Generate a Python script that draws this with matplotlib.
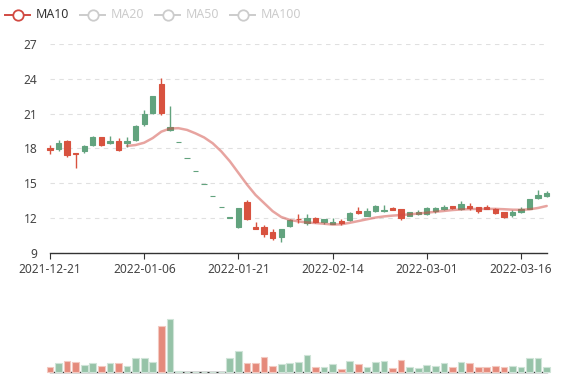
import numpy as np
import matplotlib
matplotlib.use("Agg")
import matplotlib.pyplot as plt

plt.rcParams['font.family'] = ['Noto Sans', 'DejaVu Sans']

dates = ["2021-12-21", "2021-12-22", "2021-12-23", "2021-12-24", "2021-12-27",
         "2021-12-28", "2021-12-29", "2021-12-30", "2021-12-31", "2022-01-04",
         "2022-01-05", "2022-01-06", "2022-01-07", "2022-01-10", "2022-01-11",
         "2022-01-12", "2022-01-13", "2022-01-14", "2022-01-17", "2022-01-18",
         "2022-01-19", "2022-01-20", "2022-01-21", "2022-01-24", "2022-01-25",
         "2022-01-26", "2022-01-27", "2022-01-28", "2022-02-07", "2022-02-08",
         "2022-02-09", "2022-02-10", "2022-02-11", "2022-02-14", "2022-02-15",
         "2022-02-16", "2022-02-17", "2022-02-18", "2022-02-21", "2022-02-22",
         "2022-02-23", "2022-02-24", "2022-02-25", "2022-02-28", "2022-03-01",
         "2022-03-02", "2022-03-03", "2022-03-04", "2022-03-07", "2022-03-08",
         "2022-03-09", "2022-03-10", "2022-03-11", "2022-03-14", "2022-03-15",
         "2022-03-16", "2022-03-17", "2022-03-18", "2022-03-21"]

opens = [17.9, 18.5, 17.4, 17.5, 18.2, 18.95, 18.3, 18.65, 17.9, 18.65,
         19.95, 20.95, 22.5, 21.05, 19.85, 18.54, 17.22, 16.07, 14.95, 13.91,
         12.94, 12.08, 12.85, 11.9, 11.1, 10.65, 10.32, 11.05, 11.85, 11.95,
         12.0, 11.7, 11.93, 11.63, 11.62, 12.47, 12.42, 12.62, 13.05, 12.7,
         12.7, 12.0, 12.5, 12.5, 12.9, 12.88, 12.97, 12.88, 13.2, 12.91,
         12.65, 12.82, 12.45, 12.1, 12.53, 12.77, 13.63, 14.0, 14.2]
closes = [18.0, 17.95, 18.65, 17.6, 17.75, 18.3, 18.95, 18.5, 18.65, 18.45,
          18.75, 20.1, 21.05, 23.55, 19.6, 18.54, 17.22, 16.07, 14.95, 13.91,
          12.94, 12.0, 11.2, 13.35, 11.27, 11.25, 10.78, 10.4, 11.35, 11.95,
          11.55, 12.0, 11.7, 11.5, 11.76, 11.84, 12.65, 12.22, 12.65, 12.6,
          12.9, 12.77, 12.22, 12.36, 12.36, 12.62, 12.8, 13.05, 12.77, 13.03,
          12.97, 13.0, 12.82, 12.53, 12.28, 12.53, 12.77, 13.72, 13.95]
lows = [17.5, 17.75, 17.25, 16.35, 17.6, 18.2, 18.2, 18.4, 17.75, 18.15,
        18.65, 19.9, 20.95, 20.9, 19.55, 18.54, 17.22, 16.07, 14.95, 13.91,
        12.94, 12.0, 11.15, 11.85, 11.08, 10.4, 10.12, 9.97, 11.2, 11.55,
        11.4, 11.56, 11.47, 11.47, 11.42, 11.78, 12.33, 12.2, 12.5, 12.5,
        12.68, 11.84, 12.18, 12.25, 12.3, 12.45, 12.7, 12.82, 12.7, 12.7,
        12.47, 12.76, 12.4, 12.0, 12.13, 12.48, 12.75, 13.63, 13.8]
highs = [18.3, 18.75, 18.7, 17.65, 18.3, 19.1, 19.0, 19.1, 18.9, 19.0,
         20.0, 21.3, 22.55, 24.05, 21.65, 18.54, 17.22, 16.07, 14.95, 13.91,
         12.94, 12.08, 12.9, 13.6, 11.7, 11.4, 11.05, 11.05, 11.9, 12.35,
         12.35, 12.1, 11.95, 12.0, 11.9, 12.5, 13.0, 12.85, 13.13, 13.1,
         12.95, 12.8, 12.55, 12.72, 12.98, 12.97, 13.14, 13.06, 13.45, 13.3,
         13.0, 13.14, 12.88, 12.55, 12.68, 12.97, 13.65, 14.43, 14.38]
volumes = [5.3, 8.7, 11, 9.7, 7, 8.7, 6, 8.7, 8.7, 6.3,
           13.7, 13.7, 10.3, 46, 52.7, 1.0, 0.3, 0.3, 0.3, 0.3,
           0.5, 14.3, 21, 8.7, 8.7, 14.7, 5.7, 7.7, 8.7, 9.7,
           17, 5.3, 5.3, 7.7, 3, 11, 8, 4.7, 9.7, 10.7,
           3.7, 12, 5.3, 4.3, 6.7, 6, 8.7, 5.3, 10, 8.7,
           5.3, 5.3, 6, 5, 6, 5, 14, 14.3, 4.7]
ma10 = [None] * 9 + [18.22, 18.3, 18.5, 18.9, 19.45, 19.72, 19.75, 19.6, 19.3, 18.95,
                     18.45, 17.75, 16.9, 15.9, 14.9, 14.0, 13.3, 12.6, 12.1, 11.85,
                     11.72, 11.63, 11.58, 11.52, 11.45, 11.47, 11.6, 11.75, 11.9, 12.05,
                     12.15, 12.22, 12.27, 12.33, 12.4, 12.47, 12.55, 12.62, 12.7, 12.75,
                     12.78, 12.8, 12.8, 12.8, 12.77, 12.73, 12.72, 12.76, 12.88, 13.05]
legend_names = ["MA10", "MA20", "MA50", "MA100"]

UP = '#d8523f'
DOWN = '#62a37e'
UP_V = '#e58a7b'
DOWN_V = '#96c3a8'
MA_COLOR = '#d14a42'

W, H = 577, 380
fig = plt.figure(figsize=(W / 100, H / 100), dpi=100)


def rect(l, t, r, b):
    return [l / W, 1 - b / H, (r - l) / W, (b - t) / H]


n = len(dates)
x = np.arange(n)
o = np.array(opens); c = np.array(closes)
up = []
for i in range(n):
    if c[i] > o[i]:
        up.append(True)
    elif c[i] < o[i]:
        up.append(False)
    else:
        up.append(i > 0 and c[i] >= c[i - 1])
up = np.array(up)
colors = np.where(up, UP, DOWN)
vol_up = c > o

ax = fig.add_axes(rect(50, 44, 546.7, 253))
ax.set_xlim(0, n - 1)
ax.set_ylim(9, 27)
ax.vlines(x, lows, highs, colors=colors, linewidth=1.0, zorder=3, clip_on=False)
body_bottom = np.minimum(o, c)
body_h = np.abs(c - o)
ax.bar(x, body_h, bottom=body_bottom, width=0.62, color=colors,
       edgecolor=colors, linewidth=0.8, zorder=4, clip_on=False)
ma_arr = np.array([np.nan if v is None else v for v in ma10])
ax.plot(x, ma_arr, color=MA_COLOR, alpha=0.5, linewidth=1.8, zorder=5,
        solid_capstyle='round', clip_on=False)

ax.set_yticks(np.arange(9, 28, 3))
ax.set_yticklabels([str(v) for v in range(9, 28, 3)])
ax.set_xticks(x[::11])
ax.set_xticklabels([dates[i] for i in x[::11]])
for s in ['top', 'right', 'left']:
    ax.spines[s].set_visible(False)
ax.spines['bottom'].set_color('#333333')
ax.spines['bottom'].set_linewidth(1.0)
ax.tick_params(axis='y', length=0, pad=9, labelsize=8.6, labelcolor='#444444')
ax.tick_params(axis='x', length=4, width=0.8, color='#333333', pad=3,
               labelsize=8.6, labelcolor='#444444')
ax.yaxis.grid(True, color='#e0e0e0', linewidth=0.8, linestyle=(0, (4, 4)))
ax.set_axisbelow(True)

vax = fig.add_axes(rect(50, 300, 546.7, 372))
vax.set_xlim(0, n - 1)
vax.set_ylim(0, 72)
vcolors = np.where(vol_up, UP_V, DOWN_V)
vedge = np.where(vol_up, '#f3c9c1', '#cfe4d8')
vax.bar(x, volumes, width=0.78, color=vcolors, edgecolor=vedge, linewidth=0.8,
        clip_on=False, zorder=3)
for s in ['top', 'right', 'left']:
    vax.spines[s].set_visible(False)
vax.spines['bottom'].set_color('#333333')
vax.spines['bottom'].set_linewidth(1.0)
vax.set_xticks([])
vax.set_yticks([])
vax.patch.set_alpha(0)

# legend
lax = fig.add_axes([0, 0, 1, 1])
lax.set_xlim(0, W)
lax.set_ylim(H, 0)
lax.axis('off')
lax.patch.set_alpha(0)
for k, name in enumerate(legend_names):
    x0 = 5 + 75 * k
    col = MA_COLOR if k == 0 else '#cccccc'
    tcol = '#333333' if k == 0 else '#cccccc'
    lax.plot([x0, x0 + 25], [14.5, 14.5], color=col, linewidth=1.4)
    lax.plot([x0 + 12.5], [14.5], marker='o', markersize=7.5, markerfacecolor='white',
             markeredgecolor=col, markeredgewidth=1.3)
    lax.text(x0 + 31, 14.5, name, color=tcol, fontsize=8.9, va='center', ha='left')

fig.savefig('out.png', dpi=100)
